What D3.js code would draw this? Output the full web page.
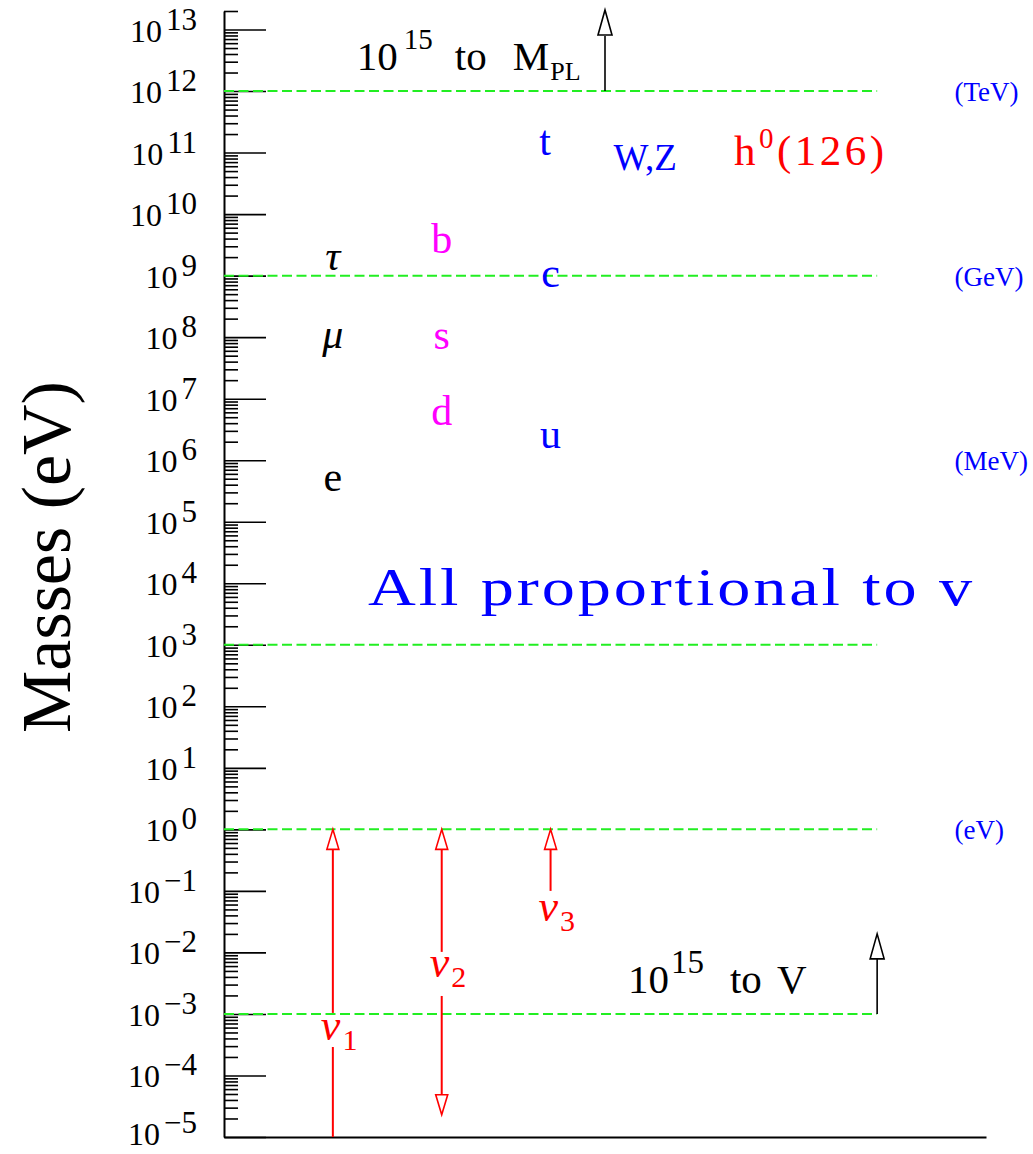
<!DOCTYPE html>
<html>
<head>
<meta charset="utf-8">
<script src="https://cdn.jsdelivr.net/npm/d3@7"></script>
<style>
  body { margin: 0; background: #fff; }
  text { font-family: "Liberation Serif", "Times New Roman", serif; }
</style>
</head>
<body>
<svg width="1033" height="1154"></svg>
<script>
// ---- data ----
var majorExponents = d3.range(-5, 14);            // 10^-5 ... 10^13
var refLines = [1e12, 1e9, 1e3, 1, 1e-3];          // green dashed levels
var unitNames = ["(TeV)", "(GeV)", "(MeV)", "(eV)"];
var unitValues = [1e12, 1e9, 1e6, 1];

var particleNames   = ["τ", "μ", "e", "b", "s", "d", "t", "c", "u"];
var particleMasses  = [1.78e9, 9.5e7, 4.5e5, 3.4e9, 9.3e7, 5.4e6, 1.3e11, 9.3e8, 2.25e6];
var particleColumn  = [1, 1, 1, 2, 2, 2, 2.95, 3, 3];
var particleGroup   = ["lepton", "lepton", "lepton", "down", "down", "down", "up", "up", "up"];

var bosonMassWZ = 8.6e10;
var higgsMass = 1.1e11;

var nuIndex    = ["1", "2", "3"];
var nuColumn   = [1, 2, 3];
var nuUpper    = [1, 1, 1];
var nuLower    = [1e-5, 2.3e-5, 0.1];
var nuGapLow   = [2.9e-4, 1.96e-3, null];
var nuGapHigh  = [1.04e-3, 1.02e-2, null];
var nuLabelAt  = [5.5e-4, 5.7e-3, 0.047];
var nuDownHead = [false, true, false];

var groupColor = { lepton: "#000", down: "#ff00ff", up: "#0000ff" };

// ---- scales ----
const svg = d3.select("svg");
const x = d3.scaleLinear().domain([0, 7]).range([224, 986]);
const y = d3.scaleLog().domain([1e-5, 2e13]).range([1137, 11]);
const green = "#22ee22";

function isPow10(v) {
  var l = Math.log10(v);
  return Math.abs(l - Math.round(l)) < 1e-6;
}

// minor ticks
var minorAxis = svg.append("g")
  .attr("transform", `translate(${x(0)},0)`)
  .call(d3.axisRight(y).tickValues(y.ticks(100).filter(v => !isPow10(v)))
        .tickSize(14).tickSizeOuter(0).tickFormat(""));
minorAxis.select(".domain").attr("stroke-width", 2);
minorAxis.selectAll(".tick line").attr("stroke-width", 1.6);

// major ticks
var majorAxis = svg.append("g")
  .attr("transform", `translate(${x(0)},0)`)
  .call(d3.axisRight(y).tickValues(majorExponents.map(e => Math.pow(10, e)))
        .tickSize(42).tickSizeOuter(0).tickFormat(""));
majorAxis.select(".domain").remove();
majorAxis.selectAll(".tick line").attr("stroke-width", 1.6);

// bottom axis line
var bottomAxis = svg.append("g")
  .attr("transform", `translate(0,${y(1e-5)})`)
  .call(d3.axisBottom(x).tickValues([]).tickSizeOuter(0));
bottomAxis.select(".domain").attr("stroke-width", 2);

// tick labels 10^n (lowest one nudged up so it stays inside the page)
svg.append("g").selectAll("text")
  .data(majorExponents)
  .join("text")
  .attr("x", x(0) - 27)
  .attr("y", d => y(Math.pow(10, d)) + (d === -5 ? 8 : 12))
  .attr("text-anchor", "end")
  .attr("font-size", 32)
  .each(function(d) {
    var t = d3.select(this);
    t.append("tspan").text("10");
    t.append("tspan").attr("dx", 4).attr("dy", -12).attr("font-size", 31)
      .text(d < 0 ? "\u2212" + (-d) : String(d));
  });

// axis title
svg.append("text")
  .attr("transform", "translate(70,557) rotate(-90)")
  .attr("text-anchor", "middle")
  .attr("font-size", 70)
  .text("Masses (eV)");

// green dashed reference lines
svg.append("g").selectAll("line")
  .data(refLines)
  .join("line")
  .attr("x1", x(0)).attr("x2", x(6))
  .attr("y1", d => y(d)).attr("y2", d => y(d))
  .attr("stroke", green)
  .attr("stroke-width", 2)
  .attr("stroke-dasharray", "10,4.5");

// unit labels on the right
svg.append("g").selectAll("text")
  .data(unitNames)
  .join("text")
  .attr("x", x(6.71))
  .attr("y", (d, i) => y(unitValues[i]) + 10)
  .attr("font-size", 27)
  .attr("fill", "#0000ff")
  .text(d => d);

// particle labels
var fs = 42;
svg.append("g").selectAll("text")
  .data(particleNames)
  .join("text")
  .attr("x", (d, i) => x(particleColumn[i]))
  .attr("y", (d, i) => y(particleMasses[i]) + 0.23 * fs)
  .attr("text-anchor", "middle")
  .attr("font-size", fs)
  .attr("font-style", d => (d === "τ" || d === "μ") ? "italic" : "normal")
  .attr("fill", (d, i) => groupColor[particleGroup[i]])
  .text(d => d);

svg.append("text")
  .attr("x", x(3.87))
  .attr("y", y(bosonMassWZ) + 0.36 * 37)
  .attr("text-anchor", "middle")
  .attr("font-size", 37)
  .attr("fill", "#0000ff")
  .text("W,Z");

var higgs = svg.append("text")
  .attr("x", x(5.39))
  .attr("y", y(higgsMass) + 0.36 * 42)
  .attr("text-anchor", "middle")
  .attr("font-size", 43)
  .attr("letter-spacing", 3.5)
  .attr("fill", "#ff0000");
higgs.append("tspan").text("h");
higgs.append("tspan").attr("dy", -17).attr("font-size", 29).text("0");
higgs.append("tspan").attr("dy", 17).text("(126)");

// arrow helpers
function arrowHead(g, xp, yp, dir, h, w, color) {
  g.append("path")
    .attr("d", `M${xp},${yp} L${xp - w},${yp + dir * h} L${xp + w},${yp + dir * h} Z`)
    .attr("fill", "#fff")
    .attr("stroke", color)
    .attr("stroke-width", 1.6)
    .attr("stroke-linejoin", "miter");
}
function shaft(g, xp, y1, y2, color, w) {
  g.append("line")
    .attr("x1", xp).attr("x2", xp)
    .attr("y1", y1).attr("y2", y2)
    .attr("stroke", color)
    .attr("stroke-width", w);
}

// neutrino arrows
var nuG = svg.append("g");
nuIndex.forEach(function(n, i) {
  var xp = x(nuColumn[i]);
  var top = y(nuUpper[i]);
  var bot = y(nuLower[i]);
  var headH = 20, headW = 6;
  var shTop = top + headH;
  var shBot = nuDownHead[i] ? bot - headH : bot;
  if (nuGapLow[i] !== null) {
    shaft(nuG, xp, shTop, y(nuGapHigh[i]), "#ff0000", 2);
    shaft(nuG, xp, y(nuGapLow[i]), shBot, "#ff0000", 2);
  } else {
    shaft(nuG, xp, shTop, shBot, "#ff0000", 2);
  }
  arrowHead(nuG, xp, top, 1, headH, headW, "#ff0000");
  if (nuDownHead[i]) arrowHead(nuG, xp, bot, -1, headH, headW, "#ff0000");

  var lab = nuG.append("text")
    .attr("x", xp - 12)
    .attr("y", y(nuLabelAt[i]) + 10)
    .attr("font-size", 44)
    .attr("fill", "#ff0000");
  lab.append("tspan").attr("font-style", "italic").text("ν");
  lab.append("tspan").attr("dy", 10).attr("dx", 2).attr("font-size", 30).text(n);
});

// black arrows
var bg = svg.append("g");
shaft(bg, x(3.5), y(1e12), y(2e13) + 25, "#000", 1.6);
arrowHead(bg, x(3.5), y(2e13) - 1, 1, 25, 7, "#000");
shaft(bg, x(6), y(1e-3), y(0.02) + 25, "#000", 1.6);
arrowHead(bg, x(6), y(0.02), 1, 25, 7, "#000");

// annotations
var t1 = svg.append("text")
  .attr("x", x(1.22)).attr("y", y(2.2e12))
  .attr("font-size", 41);
t1.append("tspan").text("10");
t1.append("tspan").attr("dx", 6).attr("dy", -21).attr("font-size", 29).text("15");
t1.append("tspan").attr("dx", 22).attr("dy", 21).text("to");
t1.append("tspan").attr("dx", 26).text("M");
t1.append("tspan").attr("dx", 1).attr("dy", 10).attr("font-size", 26).text("PL");

var t2 = svg.append("text")
  .attr("x", x(3.711)).attr("y", y(2.2e-3))
  .attr("font-size", 41);
t2.append("tspan").text("10");
t2.append("tspan").attr("dx", 2).attr("dy", -20).attr("font-size", 33).text("15");
t2.append("tspan").attr("dx", 26).attr("dy", 20).text("to");
t2.append("tspan").attr("dx", 15).text("V");

// big caption, widened horizontally like the original stroke font
var capScale = 1.25;
svg.append("text")
  .attr("transform", `translate(${x(1.323)},${y(4.4e3)}) scale(${capScale},1)`)
  .attr("font-size", 53)
  .attr("fill", "#0000ff")
  .attr("textLength", 604 / capScale)
  .attr("lengthAdjust", "spacing")
  .text("All proportional to v");
</script>
</body>
</html>
